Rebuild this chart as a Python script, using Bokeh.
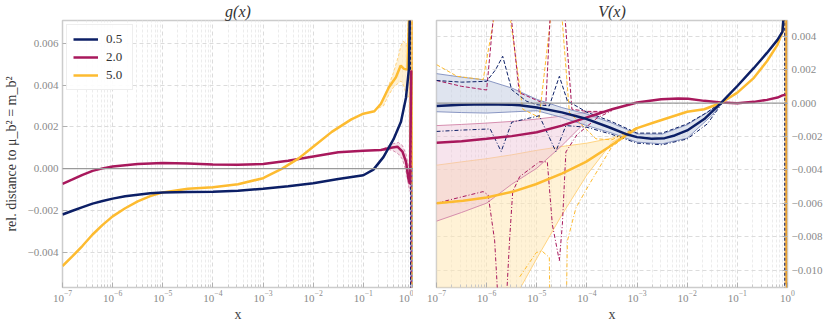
from bokeh.plotting import figure
from bokeh.layouts import row
from bokeh.models import (Span, Legend, LegendItem, CustomJSTickFormatter,
                          FixedTicker)
from bokeh.embed import file_html
from bokeh.resources import INLINE

SCALE = 1e-3  # values below are in units of 1e-3

# ---------------- g(x) panel ----------------
G_LOGX_05 = [-7, -6.8, -6.6, -6.4, -6.2, -6, -5.75, -5.5, -5.25, -5, -4.5, -4, -3.5, -3, -2.5, -2, -1.5, -1, -0.8, -0.6, -0.4, -0.25, -0.15, -0.09, -0.07]
G_05 = [-2.20, -2.02, -1.85, -1.68, -1.55, -1.44, -1.33, -1.25, -1.18, -1.14, -1.12, -1.11, -1.06, -0.97, -0.85, -0.70, -0.50, -0.32, -0.05, 0.55, 1.40, 2.25, 3.40, 4.80, 8.0]

G_LOGX_20 = [-7, -6.8, -6.6, -6.4, -6.2, -6, -5.5, -5, -4.5, -4, -3.5, -3, -2.5, -2, -1.5, -1, -0.65, -0.45, -0.32, -0.22, -0.15, -0.1, -0.07, -0.045]
G_20 = [-0.73, -0.52, -0.30, -0.11, 0.01, 0.10, 0.22, 0.27, 0.24, 0.20, 0.19, 0.22, 0.38, 0.58, 0.78, 0.86, 0.89, 1.00, 1.05, 0.81, 0.33, -0.50, -0.75, 4.7]

G_LOGX_50 = [-7, -6.8, -6.6, -6.4, -6.2, -6, -5.75, -5.5, -5.25, -5, -4.5, -4, -3.5, -3, -2.62, -2.29, -2, -1.63, -1.24, -1, -0.78, -0.65, -0.49, -0.35, -0.255, -0.19, -0.12, -0.08]
G_50 = [-4.67, -4.20, -3.70, -3.16, -2.70, -2.29, -1.90, -1.57, -1.32, -1.14, -0.97, -0.89, -0.75, -0.46, 0.0, 0.49, 1.05, 1.76, 2.36, 2.63, 2.75, 3.11, 3.90, 4.38, 4.94, 4.78, 4.75, 8.0]

# divergence of the variations right at x -> 1
G_DROP_LOGX_05 = [-0.06, -0.058]
G_DROP_05 = [8.0, -8.0]
G_DROP_LOGX_20 = [-0.045, -0.043]
G_DROP_20 = [4.7, -8.0]
G_DROP_LOGX_50 = [-0.03, -0.028]
G_DROP_50 = [8.0, -8.0]

G_BAND_LOGX_50 = [-0.7, -0.6, -0.5, -0.4, -0.3, -0.25, -0.2, -0.15, -0.12, -0.09]
G_BAND_UP_50 = [2.95, 3.35, 3.95, 4.6, 5.4, 5.9, 6.1, 6.0, 5.8, 8.0]
G_BAND_LO_50 = [2.9, 3.0, 3.5, 3.9, 4.1, 4.2, 4.0, 3.6, 3.4, 3.5]

G_BAND_LOGX_20 = [-0.6, -0.5, -0.4, -0.3, -0.22, -0.15, -0.1, -0.07]
G_BAND_UP_20 = [0.95, 1.08, 1.2, 1.25, 1.1, 0.7, 0.1, -0.4]
G_BAND_LO_20 = [0.85, 0.92, 0.85, 0.7, 0.45, -0.1, -0.8, -1.1]

G_EDGE_LOGX_50 = [-0.09, 0.0]
G_EDGE_UP_50 = [20.0, 20.0]
G_EDGE_LO_50 = [0.0, 0.0]
G_EDGE_LOGX_05 = [-0.065, 0.0]
G_EDGE_UP_05 = [0.0, 0.0]
G_EDGE_LO_05 = [-20.0, -20.0]

# ---------------- V(x) panel ----------------
V_LOGX_05 = [-7, -6.5, -6, -5.5, -5.34, -5, -4.5, -4, -3.56, -3.23, -3, -2.71, -2.45, -2.25, -2, -1.66, -1.33, -1, -0.67, -0.41, -0.2, -0.1, -0.06]
V_05 = [-0.17, -0.10, -0.07, -0.10, -0.13, -0.27, -0.56, -0.96, -1.45, -1.85, -2.04, -2.14, -2.10, -1.94, -1.64, -0.96, 0.0, 1.02, 2.10, 3.00, 3.78, 4.27, 6.0]

V_BAND_LOGX_05 = [-7, -6.5, -6, -5.5, -5, -4.5, -4, -3.5, -3, -2.5, -2, -1.5, -1.3]
V_BAND_UP_05 = [1.76, 1.55, 1.37, 0.90, 0.22, -0.27, -0.66, -1.20, -1.85, -1.86, -1.30, -0.38, 0.12]
V_BAND_LO_05 = [-0.52, -0.57, -0.60, -0.53, -0.46, -0.86, -1.35, -1.80, -2.34, -2.44, -2.10, -0.72, 0.04]

V_DU_LOGX_05 = [-7, -6.5, -6, -5.82, -5.68, -5.5, -5.2, -5, -4.75, -4.55, -4.39, -4, -3.5, -3, -2.5, -2, -1.6, -1.3]
V_DU_05 = [1.35, 1.25, 1.30, 2.0, 2.8, 0.8, 0.1, -0.1, -0.17, 1.6, 0.13, -0.55, -1.12, -1.80, -1.80, -1.25, -0.55, 0.1]
V_DL_LOGX_05 = [-7, -6.5, -5.93, -5.71, -5.5, -4.95, -4.62, -4.42, -4, -3.5, -3, -2.5, -2, -1.6, -1.3]
V_DL_05 = [-1.70, -1.62, -1.55, -2.9, -1.15, -0.76, -2.9, -1.35, -1.45, -1.88, -2.40, -2.50, -2.15, -1.25, 0.0]

V_LOGX_20 = [-7, -6.5, -6, -5.5, -5, -4.5, -4, -3.5, -3, -2.52, -2.18, -1.98, -1.66, -1.33, -1, -0.67, -0.41, -0.2, -0.1, -0.04]
V_20 = [-2.37, -2.28, -2.14, -1.98, -1.75, -1.35, -0.86, -0.37, 0.03, 0.22, 0.27, 0.26, 0.13, 0.03, -0.01, 0.07, 0.19, 0.33, 0.46, 0.50]

V_BAND_LOGX_20 = [-7, -6.5, -6, -5.5, -5, -4.5, -4, -3.7]
V_BAND_UP_20 = [-1.35, -1.28, -1.20, -1.10, -0.96, -0.78, -0.55, -0.55]
V_BAND_LO_20 = [-7.07, -6.55, -5.99, -4.86, -3.9, -2.55, -1.05, -0.6]

V_DU_LOGX_20 = [-7, -6.5, -6.0, -5.84, -5.54, -5.35, -4.82, -4.72, -4.46, -4.3, -4, -3.6]
V_DU_20 = [1.35, 1.0, 0.78, 6.0, 6.0, 0.62, -0.07, 6.0, 6.0, -0.37, -0.5, -0.5]
V_DL_LOGX_20 = [-7, -6.73, -6.07, -5.97, -5.84, -5.77, -5.61, -5.54, -5.48, -5.34, -4.95, -4.79, -4.69, -4.55, -4.49, -4.42, -4.2, -3.8, -3.5]
V_DL_20 = [-6.0, -5.79, -5.3, -5.5, -8.25, -12, -12, -8.06, -5.3, -4.4, -3.52, -3.52, -7.27, -9.44, -7.27, -2.93, -1.9, -0.9, -0.45]

V_LOGX_50 = [-7, -6.47, -6, -5.47, -5.02, -4.49, -4.02, -3.56, -3.23, -3, -2.65, -2, -1.66, -1.33, -1, -0.67, -0.41, -0.2, -0.1, -0.05]
V_50 = [-6.0, -5.85, -5.65, -5.3, -4.86, -4.21, -3.52, -2.63, -1.94, -1.50, -1.15, -0.52, -0.37, 0.0, 0.62, 1.51, 2.50, 3.48, 4.27, 6.0]

V_BAND_LOGX_50 = [-7, -6.5, -6, -5.5, -5, -4.5, -4, -3.5, -3]
V_BAND_UP_50 = [-3.72, -3.52, -3.33, -3.1, -2.83, -2.6, -2.4, -2.1, -1.5]
V_BAND_LO_50 = [-15, -15, -15, -12, -9.3, -6.7, -4.3, -2.35, -1.5]

V_DU_LOGX_50 = [-7, -6.59, -6.07, -5.8, -5.57, -5.28, -4.95, -4.69, -4.52, -4.35, -3.82, -3.5, -3]
V_DU_50 = [2.3, 1.6, 1.4, 6.0, 6.0, -0.37, -0.86, 6.0, 6.0, -0.56, -2.14, -2.2, -1.45]
V_DL_LOGX_50 = [-5.34, -5.01, -4.9, -4.75, -4.74, -4.41, -4.39, -4.22, -3.96, -3.5, -3]
V_DL_50 = [-10.4, -8.95, -8.85, -9.24, -12, -12, -8.26, -6.28, -4.9, -2.6, -1.55]

V_DROP_LOGX_05 = [-0.055, -0.053]
V_DROP_05 = [6.0, -12.0]
V_DROP_LOGX_50 = [-0.025, -0.023]
V_DROP_50 = [6.0, -12.0]

V_EDGE_LOGX_50 = [-0.06, 0.0]
V_EDGE_UP_50 = [20.0, 20.0]
V_EDGE_LO_50 = [-20.0, -20.0]

LABELS = ["0.5", "2.0", "5.0"]
X_TICK_EXP = [-7, -6, -5, -4, -3, -2, -1, 0]
G_YTICKS = [-0.004, -0.002, 0.0, 0.002, 0.004, 0.006]
V_YTICKS = [-0.010, -0.008, -0.006, -0.004, -0.002, 0.0, 0.002, 0.004]

NAVY = "#0c1f66"
MAG = "#a8185c"
YEL = "#fdbb30"
BAND = {NAVY: ("#c5cde2", "#7d8cbd"), MAG: ("#edc3d6", "#d184a7"), YEL: ("#ffe7b5", "#ffcf75")}
EDGE_FILL = {NAVY: "#8f9cc6", YEL: "#f3bf72"}
SERIF = "'Liberation Serif', serif"


def xs(lx):
    return [10.0 ** e for e in lx]


def ys(v):
    return [a * SCALE for a in v]


def make_fig(title, yrange, yticks, right, fw, bl, br):
    p = figure(frame_width=fw, frame_height=267, x_axis_type="log", x_range=(1e-7, 1.0),
               y_range=yrange, output_backend="svg", toolbar_location=None,
               y_axis_location="right" if right else "left",
               min_border_left=bl, min_border_right=br, min_border_top=0, min_border_bottom=0)
    p.title.text = title
    p.title.align = "center"
    p.title.text_font = SERIF
    p.title.text_font_style = "italic"
    p.title.text_font_size = "16px"
    p.title.text_color = "#333333"
    p.title.standoff = 1
    p.title.offset = 0
    p.background_fill_color = "white"
    p.border_fill_color = "white"
    p.outline_line_color = "#cccccc"
    p.outline_line_width = 1.5
    minor = [m * 10.0 ** k for k in range(-7, 0) for m in range(2, 10)]
    p.xaxis.ticker = FixedTicker(ticks=[10.0 ** k for k in X_TICK_EXP], minor_ticks=minor)
    p.yaxis.ticker = FixedTicker(ticks=yticks, minor_ticks=[])
    p.yaxis.formatter = CustomJSTickFormatter(
        code="const s = Math.abs(tick).toFixed(3); return tick < -1e-12 ? '\u2212' + s : s;")
    for ax in (p.xaxis[0], p.yaxis[0]):
        ax.axis_line_color = None
        ax.major_label_text_font = SERIF
        ax.major_label_text_font_size = "11px"
        ax.major_label_text_color = "#8a8a8a"
        ax.major_tick_line_color = "#b0b0b0"
        ax.minor_tick_line_color = "#c8c8c8"
        ax.major_tick_in = 5
        ax.major_tick_out = 0
        ax.minor_tick_in = 3
        ax.minor_tick_out = 0
        ax.major_label_standoff = 4
    p.xaxis.major_label_standoff = 3
    p.xaxis.axis_label = "x"
    p.xaxis.axis_label_text_font = SERIF
    p.xaxis.axis_label_text_font_style = "normal"
    p.xaxis.axis_label_text_font_size = "14px"
    p.xaxis.axis_label_text_color = "#444444"
    p.xaxis.axis_label_standoff = 2
    p.xgrid.grid_line_color = "#dcdcdc"
    p.xgrid.grid_line_dash = "4 3"
    p.xgrid.minor_grid_line_color = "#ececec"
    p.xgrid.minor_grid_line_dash = "3 2"
    p.ygrid.grid_line_color = "#dcdcdc"
    p.ygrid.grid_line_dash = "4 3"
    p.add_layout(Span(location=0, dimension="width", line_color="#9a9a9a", line_width=1.2))
    return p


def band(p, lx, up, lo, color, alpha=0.55, edge=True, edge_dash="solid"):
    fill, border = BAND[color]
    x = xs(lx)
    p.varea(x=x, y1=ys(lo), y2=ys(up), fill_color=fill, fill_alpha=alpha)
    if edge:
        p.line(x, ys(up), line_color=border, line_width=1, line_dash=edge_dash, line_alpha=0.9)
        p.line(x, ys(lo), line_color=border, line_width=1, line_dash=edge_dash, line_alpha=0.9)


def edge_fill(p, lx, up, lo, color):
    p.varea(x=xs(lx), y1=ys(lo), y2=ys(up), fill_color=EDGE_FILL[color], fill_alpha=0.9)


# ---------- left panel ----------
p1 = make_fig("g(x)", (-0.0057, 0.0071), G_YTICKS, False, 351, 50, 0)
p1.yaxis.axis_label = "rel. distance to \u03bc_b\u00b2 = m_b\u00b2"
p1.yaxis.axis_label_text_font = SERIF
p1.yaxis.axis_label_text_font_style = "normal"
p1.yaxis.axis_label_text_font_size = "14px"
p1.yaxis.axis_label_text_color = "#333333"
p1.yaxis.axis_label_standoff = 6

band(p1, G_BAND_LOGX_50, G_BAND_UP_50, G_BAND_LO_50, YEL, 0.6, True, "3 2")
band(p1, G_BAND_LOGX_20, G_BAND_UP_20, G_BAND_LO_20, MAG, 0.5, True, "3 2")
edge_fill(p1, G_EDGE_LOGX_50, G_EDGE_UP_50, G_EDGE_LO_50, YEL)
edge_fill(p1, G_EDGE_LOGX_05, G_EDGE_UP_05, G_EDGE_LO_05, NAVY)

p1.line(xs(G_DROP_LOGX_05), ys(G_DROP_05), line_color=NAVY, line_width=1.2, line_dash="3 2")
p1.line(xs(G_DROP_LOGX_20), ys(G_DROP_20), line_color=MAG, line_width=1.2, line_dash="3 2")
p1.line(xs(G_DROP_LOGX_50), ys(G_DROP_50), line_color=YEL, line_width=1.2, line_dash="3 2")

l20 = p1.line(xs(G_LOGX_20), ys(G_20), line_color=MAG, line_width=2.5)
l50 = p1.line(xs(G_LOGX_50), ys(G_50), line_color=YEL, line_width=2.5)
l05 = p1.line(xs(G_LOGX_05), ys(G_05), line_color=NAVY, line_width=2.5)

items = []
for lab, col, lr in zip(LABELS, [NAVY, MAG, YEL], [l05, l20, l50]):
    fill, border = BAND[col]
    q = p1.quad(left=[], right=[], top=[], bottom=[], fill_color=fill, fill_alpha=0.6,
                line_color=border, line_width=1)
    items.append(LegendItem(label=lab, renderers=[q, lr]))
legend = Legend(items=items, location="top_left", label_text_font=SERIF,
                label_text_font_size="13px", label_text_color="#333333",
                border_line_color="#dddddd", background_fill_alpha=0.9,
                glyph_width=25, glyph_height=10, label_height=12, spacing=2,
                padding=6, margin=4, label_standoff=8)
p1.add_layout(legend)

# ---------- right panel ----------
p2 = make_fig("V(x)", (-0.01104, 0.00494), V_YTICKS, True, 351, 23, 0)

band(p2, V_BAND_LOGX_50, V_BAND_UP_50, V_BAND_LO_50, YEL, 0.55)
band(p2, V_BAND_LOGX_20, V_BAND_UP_20, V_BAND_LO_20, MAG, 0.45)
band(p2, V_BAND_LOGX_05, V_BAND_UP_05, V_BAND_LO_05, NAVY, 0.55)
edge_fill(p2, V_EDGE_LOGX_50, V_EDGE_UP_50, V_EDGE_LO_50, YEL)

p2.line(xs(V_DU_LOGX_50), ys(V_DU_50), line_color=YEL, line_width=1, line_dash="4 2")
p2.line(xs(V_DL_LOGX_50), ys(V_DL_50), line_color=YEL, line_width=1, line_dash="4 2 1 2")
p2.line(xs(V_DU_LOGX_20), ys(V_DU_20), line_color=MAG, line_width=1, line_dash="4 2")
p2.line(xs(V_DL_LOGX_20), ys(V_DL_20), line_color=MAG, line_width=1, line_dash="4 2 1 2")
p2.line(xs(V_DU_LOGX_05), ys(V_DU_05), line_color=NAVY, line_width=1, line_dash="4 2")
p2.line(xs(V_DL_LOGX_05), ys(V_DL_05), line_color=NAVY, line_width=1, line_dash="4 2 1 2")
p2.line(xs(V_DROP_LOGX_05), ys(V_DROP_05), line_color=NAVY, line_width=1.2, line_dash="3 2")
p2.line(xs(V_DROP_LOGX_50), ys(V_DROP_50), line_color="#e8a030", line_width=1.5)

p2.line(xs(V_LOGX_20), ys(V_20), line_color=MAG, line_width=2.5)
p2.line(xs(V_LOGX_50), ys(V_50), line_color=YEL, line_width=2.5)
p2.line(xs(V_LOGX_05), ys(V_05), line_color=NAVY, line_width=2.5)

layout = row(p1, p2)
open("out.html", "w").write(file_html(layout, INLINE))
